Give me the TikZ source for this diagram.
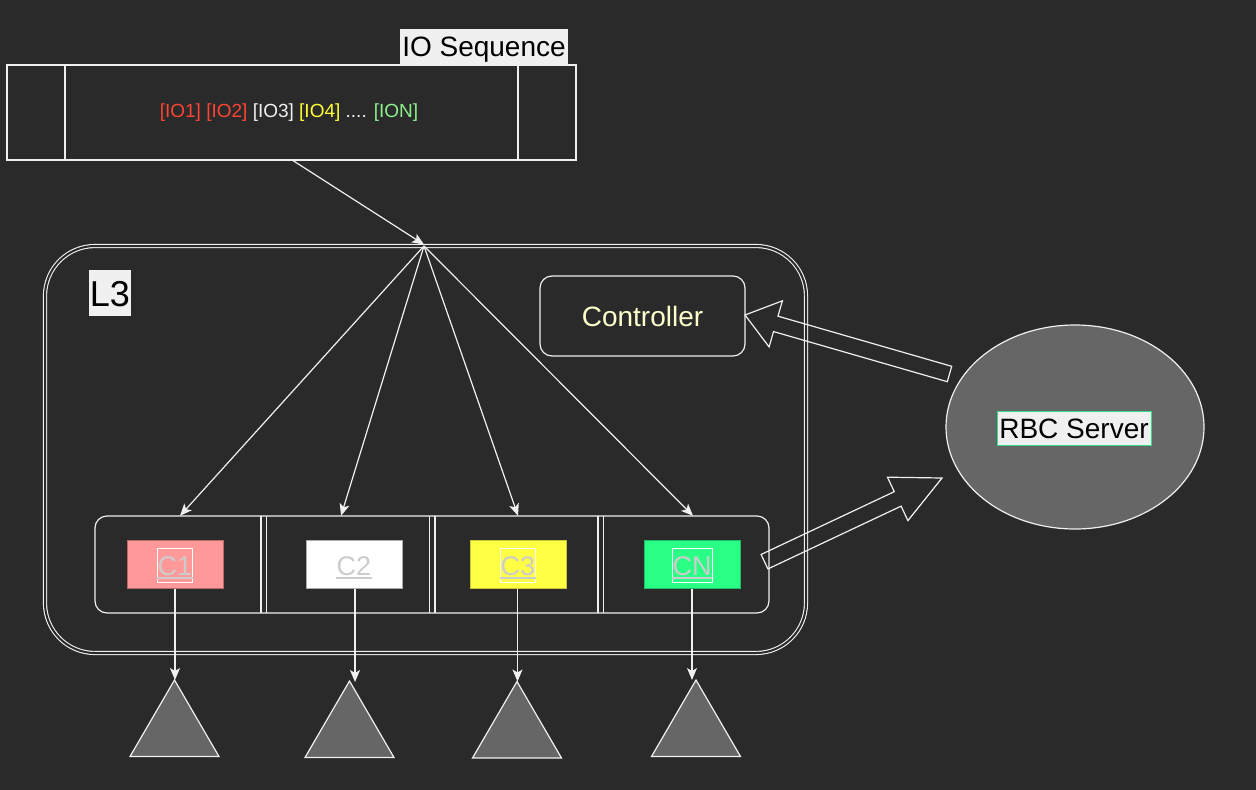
\documentclass[tikz,border=0pt]{standalone}
\usepackage{fontspec}
\setmainfont{Liberation Sans}
\usetikzlibrary{arrows.meta,calc,shapes.geometric}

\definecolor{bg}{HTML}{2A2A2A}
\definecolor{ln}{HTML}{F0F0F0}
\definecolor{lblbg}{HTML}{F0F0F0}
\definecolor{midgrey}{HTML}{666666}
\definecolor{ioRed}{HTML}{FF4433}
\definecolor{ioYel}{HTML}{FFFF33}
\definecolor{ioGrn}{HTML}{8CF08C}
\definecolor{ctrlTxt}{HTML}{FFFFCC}
\definecolor{cPink}{HTML}{FF9999}
\definecolor{cPinkB}{HTML}{B86A6A}
\definecolor{cWhiteB}{HTML}{AAAAAA}
\definecolor{cYel}{HTML}{FFFF44}
\definecolor{cYelB}{HTML}{C8C83A}
\definecolor{cGrn}{HTML}{2AFF85}
\definecolor{cGrnB}{HTML}{22BB66}
\definecolor{capGrey}{HTML}{CCCCCC}
\definecolor{tagGreen}{HTML}{33DD88}

% hollow block arrow between two points: tail, tip, name, head length
\newcommand\drawblockarrow[4]{%
  \coordinate (#3j) at ($(#2)!#4!(#1)$);
  \draw[blockarrow] ($(#1)!8pt!90:(#2)$) -- ($(#3j)!8pt!90:(#2)$)
    -- ($(#3j)!24pt!90:(#2)$) -- (#2) -- ($(#3j)!24pt!-90:(#2)$)
    -- ($(#3j)!8pt!-90:(#2)$) -- ($(#1)!8pt!-90:(#2)$) -- cycle;}

\begin{document}
\begin{tikzpicture}[x=1pt,y=-1pt,
  wire/.style={draw=ln, line width=1.2pt},
  arr/.style={draw=ln, line width=1.2pt, -{Stealth[length=12pt,width=10pt,inset=3pt]}},
  blockarrow/.style={draw=ln, line width=1.2pt, line join=miter},
  tag/.style={fill=lblbg, text=black, inner sep=0pt, text depth=0pt},
  cbox/.style={minimum width=96pt, minimum height=48pt, inner sep=0pt, line width=1pt},
  clab/.style={font=\fontsize{27}{30}\selectfont, text=capGrey, draw=white, line width=0.6pt,
               inner xsep=0.5pt, inner ysep=7pt, text height=20pt, text depth=0pt},
  tri/.style={draw=ln, fill=midgrey, line width=1.2pt, line join=miter},
]
\fill[bg] (0,0) rectangle (1256,790);
\useasboundingbox (0,0) rectangle (1256,790);

% ---- IO sequence strip ----
\node[wire, minimum width=569pt, minimum height=95pt, inner sep=0pt] (io) at (291.5,112.5) {};
\draw[wire] (65,65) -- (65,160);
\draw[wire] (518,65) -- (518,160);
\node (iotext) at (289,113) {\fontsize{19}{22}\selectfont
  \textcolor{ioRed}{[IO1] [IO2]} \textcolor{ln}{[IO3]} \textcolor{ioYel}{[IO4]}
  \textcolor{ln}{....} \textcolor{ioGrn}{[ION]}};
\node[tag, text height=20pt, minimum width=168pt, minimum height=35pt, font=\fontsize{28}{32}\selectfont] (iolabel) at (484,46.5) {IO Sequence};

% ---- L3 container ----
\node[draw=ln, double=bg, double distance=2pt, line width=1.1pt, rounded corners=50pt,
      minimum width=761pt, minimum height=407pt, inner sep=0pt] (l3) at (425.5,449.5) {};
\node[tag, text height=26pt, minimum width=42pt, minimum height=46pt, font=\fontsize{36}{40}\selectfont] (l3label) at (110,293) {L3};
\coordinate (hub) at (424,246);

\node[wire, rounded corners=12pt, minimum width=205pt, minimum height=80pt, inner sep=0pt,
      font=\fontsize{28}{32}\selectfont, text=ctrlTxt] (ctrl) at (642.5,316) {Controller};

% ---- cache row ----
\node[wire, rounded corners=12pt, minimum width=674pt, minimum height=97pt, inner sep=0pt] (row) at (432,564.5) {};
\foreach \xa/\xb in {261/266.5, 429.5/435, 598/603.5}{
  \draw[wire] (\xa,516) -- (\xa,613);
  \draw[wire] (\xb,516) -- (\xb,613);
}
\node[minimum width=166pt, minimum height=97pt, inner sep=0pt] (cell1) at (178,564.5) {};
\node[minimum width=163pt, minimum height=97pt, inner sep=0pt] (cell2) at (348,564.5) {};
\node[minimum width=163pt, minimum height=97pt, inner sep=0pt] (cell3) at (516.5,564.5) {};
\node[minimum width=165pt, minimum height=97pt, inner sep=0pt] (cell4) at (686,564.5) {};

\node[cbox, fill=cPink, draw=cPinkB] (c1) at (175,564.5) {};
\node[cbox, fill=white, draw=cWhiteB] (c2) at (354,564.5) {};
\node[cbox, fill=cYel, draw=cYelB] (c3) at (518,564.5) {};
\node[cbox, fill=cGrn, draw=cGrnB] (c4) at (692,564.5) {};
\foreach \i/\t in {1/C1, 2/C2, 3/C3, 4/CN}{
  \node[clab] (l\i) at ($(c\i)+(0,0.5)$) {\t};
  \draw[capGrey, line width=2.2pt] ($(l\i.base west)+(0,3)$) -- ($(l\i.base east)+(0,3)$);
}

% ---- storage targets ----
\coordinate (t1) at (174.5,680);
\coordinate (t2) at (349.5,681);
\coordinate (t3) at (517,681.5);
\coordinate (t4) at (696,680);
\foreach \i in {1,...,4}{
  \draw[tri] (t\i) -- ++(44.5,76.5) -- ++(-89,0) -- cycle;
}

% ---- RBC server ----
\node[ellipse, draw=ln, fill=midgrey, line width=1.2pt, minimum width=258pt, minimum height=204pt,
      inner sep=0pt] (rbc) at (1075,427) {};
\node[tag, text height=20pt, draw=tagGreen, line width=0.8pt, minimum width=154pt, minimum height=34pt,
      font=\fontsize{28}{32}\selectfont] (rbclabel) at (1074,428) {RBC Server};

% ---- connectors ----
\draw[arr] ($(io.south)+(1.5,0)$) -- ($(hub)+(0,-1.5)$);
\draw[arr] (hub) -- ($(cell1.north)+(2,0)$);
\draw[arr] (hub) -- ($(cell2.north)+(-7,0)$);
\draw[arr] (hub) -- ($(cell3.north)+(1.5,0)$);
\draw[arr] (hub) -- ($(cell4.north)+(7,0)$);

\draw[arr] (c1.south) -- (c1.south |- t1);
\draw[arr] ($(c2.south)+(1,0)$) -- ($(c2.south |- t2)+(1,1)$);
\draw[arr] ($(c3.south)+(-0.5,0)$) -- ($(c3.south |- t3)+(-0.5,0)$);
\draw[arr] (c4.south) -- (c4.south |- t4);

\coordinate (fbTail) at (949.5,374);
\coordinate (fbTip) at (745,315);
\drawblockarrow{fbTail}{fbTip}{fb}{32pt}
\coordinate (upTail) at (764.5,561.7);
\coordinate (upTip) at (942,478);
\drawblockarrow{upTail}{upTip}{up}{49pt}
\end{tikzpicture}
\end{document}
